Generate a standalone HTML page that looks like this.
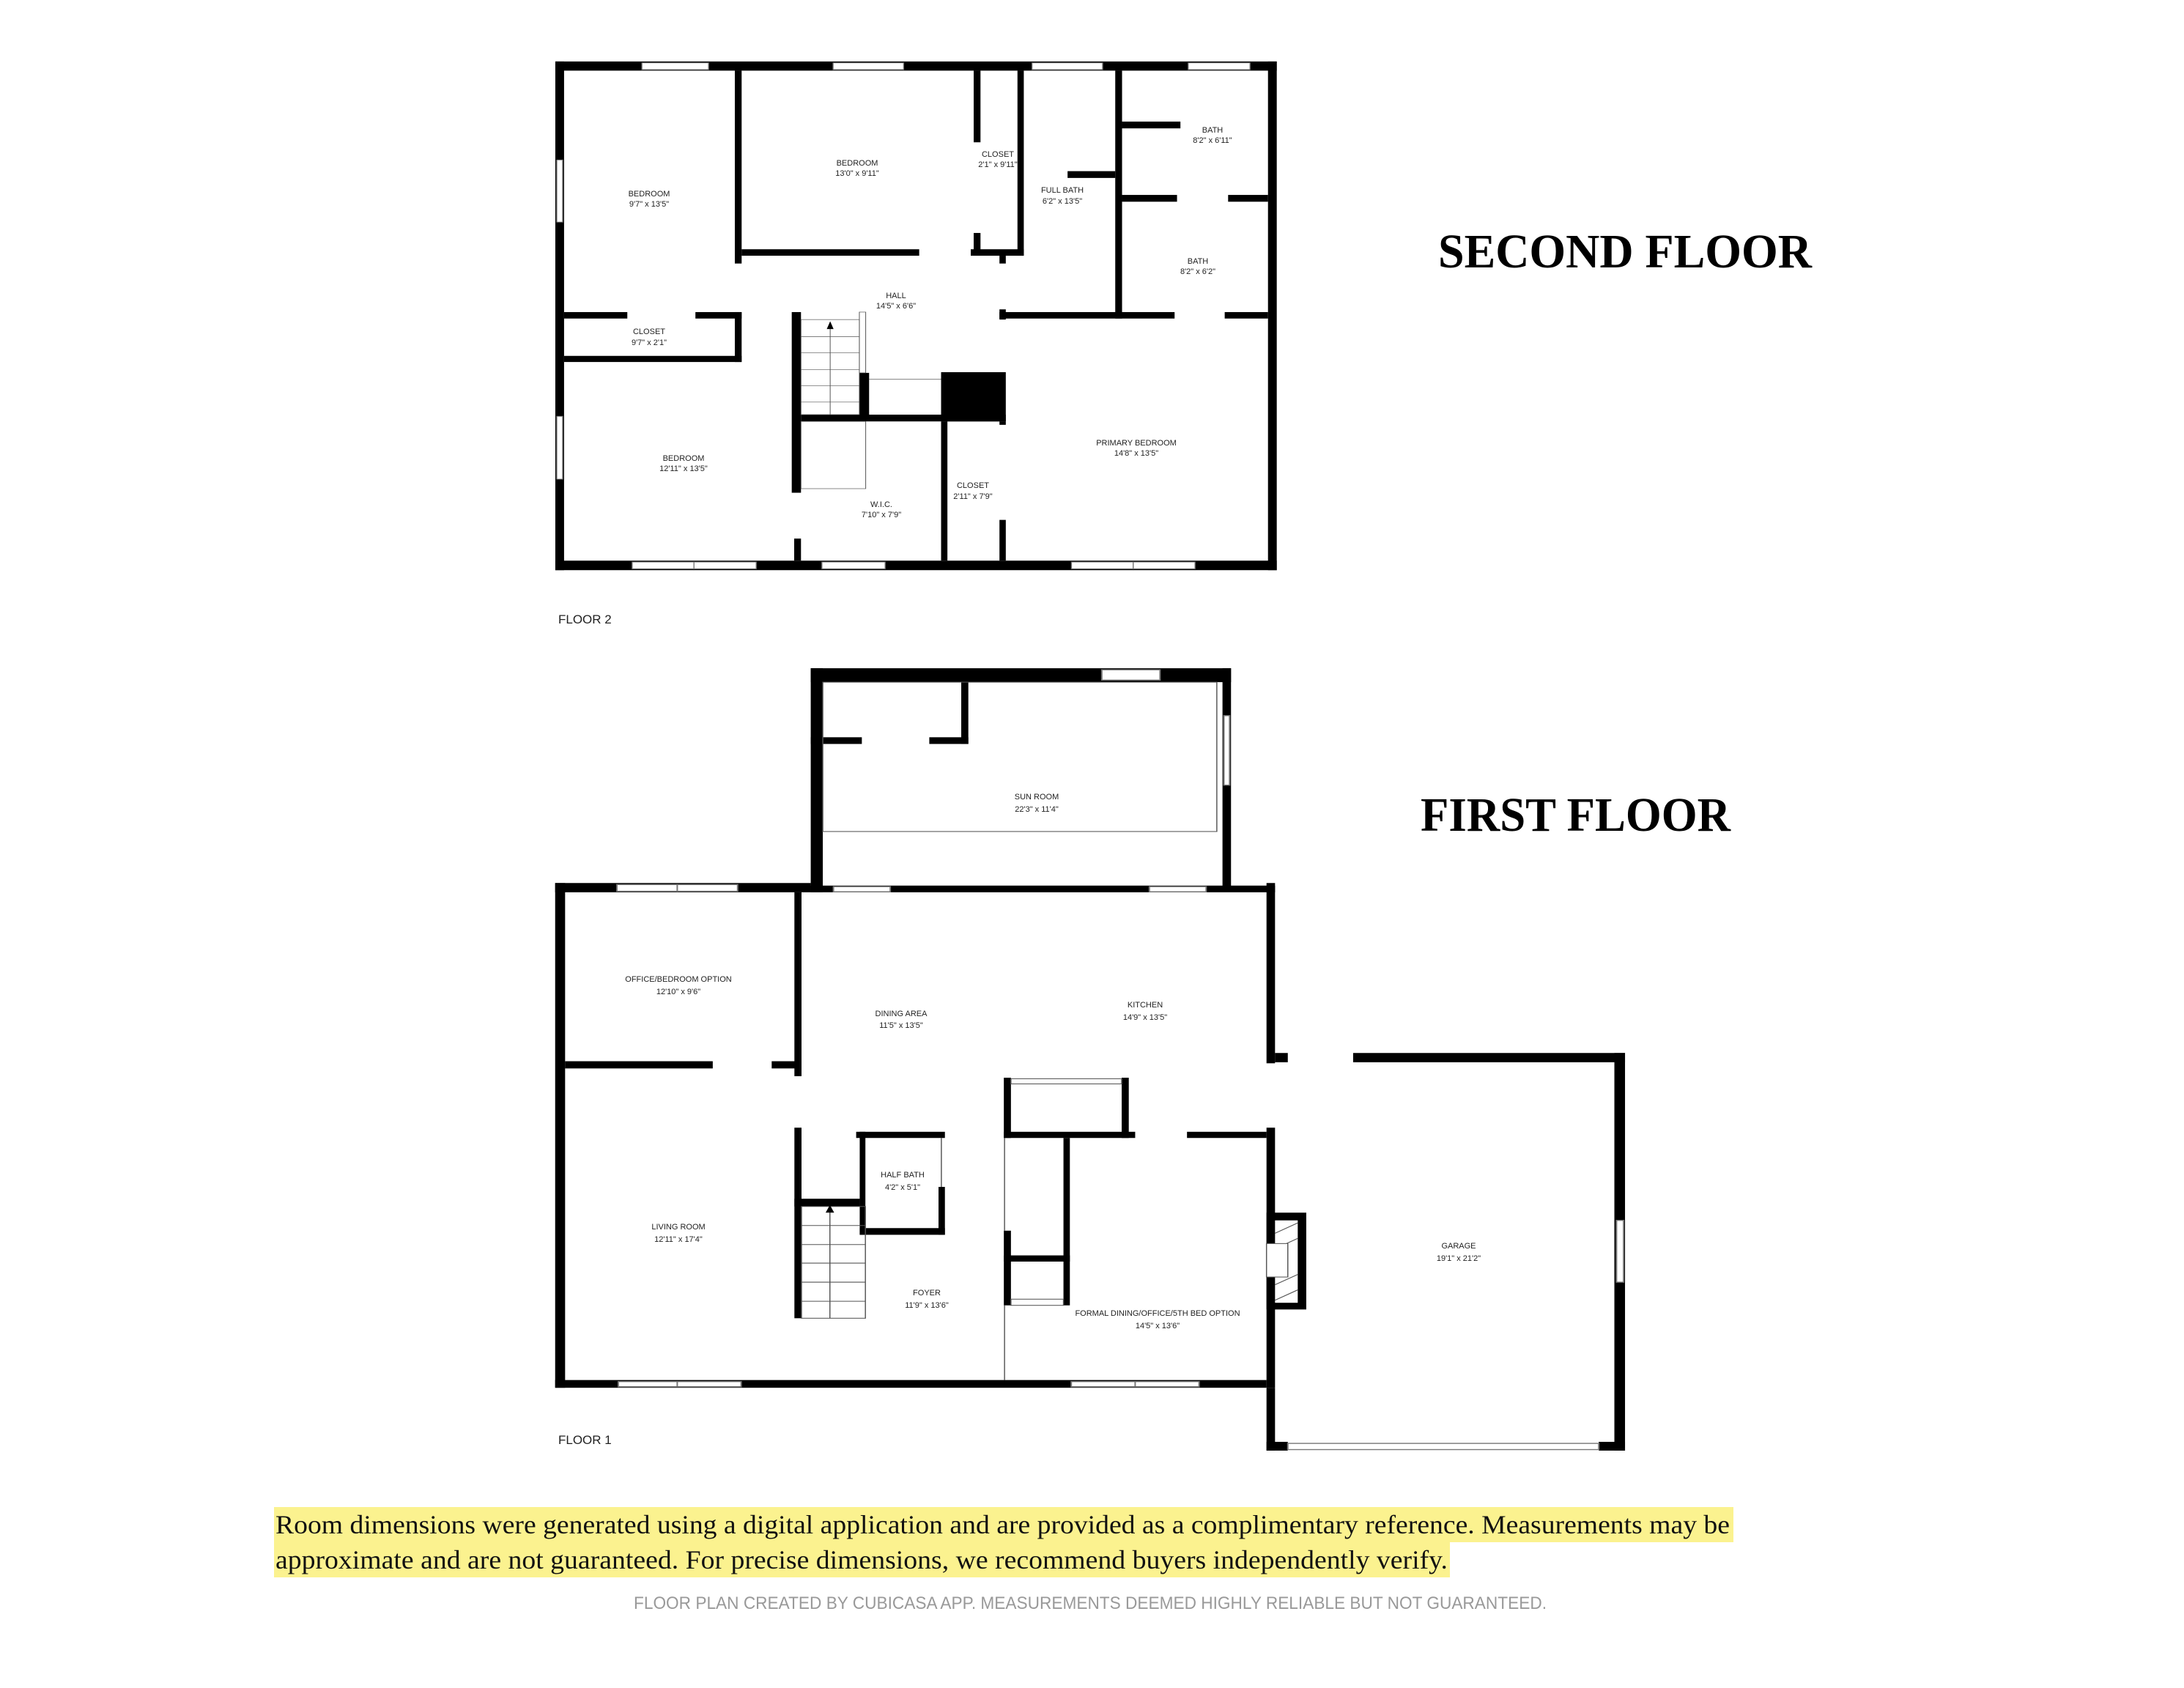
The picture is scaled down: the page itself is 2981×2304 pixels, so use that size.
<!DOCTYPE html>
<html><head><meta charset="utf-8"><style>
html,body{margin:0;padding:0;background:#fff;width:2981px;height:2304px;overflow:hidden}
svg{display:block}
.l{font-family:"Liberation Sans",sans-serif;font-size:11px;fill:#222;text-anchor:middle}
</style></head><body>
<svg width="2981" height="2304" viewBox="0 0 2981 2304" xmlns="http://www.w3.org/2000/svg">
<rect width="2981" height="2304" fill="#fff"/>
<!-- FLOOR 2 -->
<g transform="translate(750,70) scale(0.664,0.4635)">
 <g fill="#000">
  <rect x="12" y="30" width="1483" height="27"/>
  <rect x="12" y="1500" width="1483" height="28"/>
  <rect x="12" y="30" width="18" height="1498"/>
  <rect x="1477" y="30" width="18" height="1498"/>
  <rect x="381" y="57" width="14" height="568"/>
  <rect x="381" y="768" width="14" height="147"/>
  <rect x="30" y="768" width="130" height="19"/>
  <rect x="300" y="768" width="95" height="19"/>
  <rect x="30" y="897" width="365" height="18"/>
  <rect x="498" y="768" width="19" height="532"/>
  <rect x="503" y="1435" width="14" height="65"/>
  <rect x="395" y="583" width="365" height="19"/>
  <rect x="866" y="583" width="109" height="19"/>
  <rect x="872" y="57" width="14" height="211"/>
  <rect x="872" y="535" width="14" height="67"/>
  <rect x="962" y="57" width="13" height="545"/>
  <rect x="925" y="602" width="13" height="23"/>
  <rect x="925" y="760" width="13" height="30"/>
  <rect x="805" y="945" width="133" height="145"/>
  <rect x="1163" y="57" width="14" height="730"/>
  <rect x="1065" y="353" width="98" height="20"/>
  <rect x="1177" y="207" width="120" height="20"/>
  <rect x="1177" y="423" width="113" height="20"/>
  <rect x="1395" y="423" width="82" height="20"/>
  <rect x="925" y="768" width="360" height="19"/>
  <rect x="1388" y="768" width="89" height="19"/>
  <rect x="637" y="947" width="20" height="128"/>
  <rect x="517" y="1070" width="421" height="20"/>
  <rect x="805" y="1090" width="13" height="410"/>
  <rect x="925" y="1380" width="13" height="120"/>
  <rect x="925" y="1090" width="13" height="10"/>
 </g>
 <g fill="#fff" stroke="#777" stroke-width="2">
  <rect x="190" y="34" width="137" height="20"/><rect x="583" y="34" width="145" height="20"/>
  <rect x="992" y="34" width="145" height="20"/><rect x="1313" y="34" width="127" height="20"/>
  <rect x="15" y="320" width="12" height="183"/><rect x="15" y="1075" width="12" height="185"/>
  <rect x="170" y="1504" width="127" height="20"/><rect x="297" y="1504" width="128" height="20"/>
  <rect x="560" y="1504" width="130" height="20"/><rect x="1073" y="1504" width="127" height="20"/><rect x="1200" y="1504" width="127" height="20"/>
 </g>
 <g fill="none" stroke="#555" stroke-width="1.5">
  <rect x="517" y="790" width="120" height="280"/>
  <line x1="517" y1="840" x2="637" y2="840"/><line x1="517" y1="888" x2="637" y2="888"/><line x1="517" y1="937" x2="637" y2="937"/><line x1="517" y1="985" x2="637" y2="985"/><line x1="517" y1="1033" x2="637" y2="1033"/>
  <line x1="577" y1="800" x2="577" y2="1070"/>
  <rect x="637" y="768" width="13" height="179"/>
  <rect x="517" y="1090" width="133" height="198"/>
  <line x1="657" y1="966" x2="805" y2="966"/>
 </g>
 <polygon points="570,818 584,818 577,795" fill="#000"/>
</g>
<text x="886" y="268" class="l">BEDROOM</text><text x="886" y="282" class="l">9'7" x 13'5"</text>
<text x="1170" y="226" class="l">BEDROOM</text><text x="1170" y="240" class="l">13'0" x 9'11"</text>
<text x="1362" y="214" class="l">CLOSET</text><text x="1362" y="228" class="l">2'1" x 9'11"</text>
<text x="1450" y="263" class="l">FULL BATH</text><text x="1450" y="278" class="l">6'2" x 13'5"</text>
<text x="1655" y="181" class="l">BATH</text><text x="1655" y="195" class="l">8'2" x 6'11"</text>
<text x="1635" y="360" class="l">BATH</text><text x="1635" y="374" class="l">8'2" x 6'2"</text>
<text x="1223" y="407" class="l">HALL</text><text x="1223" y="421" class="l">14'5" x 6'6"</text>
<text x="886" y="456" class="l">CLOSET</text><text x="886" y="471" class="l">9'7" x 2'1"</text>
<text x="933" y="629" class="l">BEDROOM</text><text x="933" y="643" class="l">12'11" x 13'5"</text>
<text x="1203" y="692" class="l">W.I.C.</text><text x="1203" y="706" class="l">7'10" x 7'9"</text>
<text x="1328" y="666" class="l">CLOSET</text><text x="1328" y="681" class="l">2'11" x 7'9"</text>
<text x="1551" y="608" class="l">PRIMARY BEDROOM</text><text x="1551" y="622" class="l">14'8" x 13'5"</text>
<text x="762" y="851" font-family="Liberation Sans,sans-serif" font-size="17" fill="#222">FLOOR 2</text>
<text x="1963" y="365" font-family="Liberation Serif,serif" font-weight="bold" font-size="66" textLength="510" lengthAdjust="spacingAndGlyphs">SECOND FLOOR</text>
<text x="1939" y="1134" font-family="Liberation Serif,serif" font-weight="bold" font-size="66" textLength="423" lengthAdjust="spacingAndGlyphs">FIRST FLOOR</text>

<!-- FLOOR 1 -->
<g transform="translate(750,910) scale(0.969,0.703)">
 <g fill="#000">
  <rect x="368" y="3" width="592" height="27"/>
  <rect x="368" y="3" width="17" height="435"/>
  <rect x="948" y="3" width="12" height="430"/>
  <rect x="580" y="18" width="10" height="132"/>
  <rect x="368" y="137" width="72" height="13"/>
  <rect x="535" y="137" width="55" height="13"/>
  <rect x="8" y="420" width="360" height="18"/>
  <rect x="368" y="425" width="654" height="13"/>
  <rect x="8" y="420" width="14" height="980"/>
  <rect x="1010" y="420" width="12" height="350"/>
  <rect x="1010" y="895" width="12" height="505"/>
  <rect x="8" y="1385" width="1002" height="15"/>
  <rect x="22" y="766" width="208" height="14"/>
  <rect x="313" y="766" width="42" height="14"/>
  <rect x="345" y="438" width="10" height="357"/>
  <rect x="345" y="895" width="10" height="370"/>
  <rect x="432" y="903" width="125" height="12"/>
  <rect x="640" y="903" width="185" height="12"/>
  <rect x="898" y="903" width="112" height="12"/>
  <rect x="437" y="903" width="8" height="200"/>
  <rect x="437" y="1090" width="120" height="13"/>
  <rect x="548" y="1010" width="9" height="93"/>
  <rect x="345" y="1033" width="92" height="15"/>
  <rect x="640" y="798" width="10" height="117"/>
  <rect x="806" y="798" width="10" height="117"/>
  <rect x="724" y="915" width="9" height="325"/>
  <rect x="640" y="1095" width="10" height="145"/>
  <rect x="640" y="1143" width="93" height="12"/>
  <rect x="1022" y="750" width="18" height="18"/>
  <rect x="1132" y="750" width="383" height="18"/>
  <rect x="1500" y="750" width="15" height="772"/>
  <rect x="1010" y="1400" width="12" height="122"/>
  <rect x="1010" y="1505" width="30" height="17"/>
  <rect x="1478" y="1505" width="37" height="17"/>
  <rect x="1010" y="1060" width="56" height="188"/>
 </g>
 <rect x="1022" y="1075" width="32" height="160" fill="#fff"/>
 <g stroke="#555" stroke-width="1.5">
  <line x1="1022" y1="1100" x2="1054" y2="1080"/><line x1="1022" y1="1130" x2="1054" y2="1110"/><line x1="1022" y1="1200" x2="1054" y2="1180"/><line x1="1022" y1="1230" x2="1054" y2="1210"/>
 </g>
 <rect x="1010" y="1120" width="30" height="65" fill="#fff" stroke="#555" stroke-width="1.5"/>
 <g fill="#fff" stroke="#777" stroke-width="2">
  <rect x="778" y="6" width="82" height="20"/><rect x="950" y="95" width="8" height="135"/>
  <rect x="95" y="423" width="85" height="13"/><rect x="180" y="423" width="85" height="13"/>
  <rect x="400" y="427" width="80" height="10"/><rect x="845" y="427" width="80" height="10"/>
  <rect x="97" y="1388" width="83" height="10"/><rect x="180" y="1388" width="90" height="10"/>
  <rect x="735" y="1388" width="90" height="10"/><rect x="825" y="1388" width="90" height="10"/>
  <rect x="1503" y="1075" width="10" height="120"/>
  <rect x="1040" y="1508" width="438" height="12"/>
 </g>
 <g fill="none" stroke="#555" stroke-width="1.5">
  <rect x="385" y="30" width="555" height="290"/>
  <rect x="650" y="800" width="156" height="10"/>
  <rect x="355" y="1048" width="90" height="217"/>
  <line x1="355" y1="1085" x2="445" y2="1085"/><line x1="355" y1="1122" x2="445" y2="1122"/><line x1="355" y1="1158" x2="445" y2="1158"/><line x1="355" y1="1195" x2="445" y2="1195"/><line x1="355" y1="1232" x2="445" y2="1232"/>
  <line x1="395" y1="1055" x2="395" y2="1265"/>
  <line x1="641" y1="915" x2="641" y2="1095"/><line x1="641" y1="1240" x2="641" y2="1385"/>
  <rect x="650" y="1228" width="74" height="12"/>
  <line x1="552" y1="915" x2="552" y2="1010"/>
 </g>
 <polygon points="389,1060 401,1060 395,1045" fill="#000"/>
</g>
<text x="1415" y="1091" class="l">SUN ROOM</text><text x="1415" y="1108" class="l">22'3" x 11'4"</text>
<text x="926" y="1340" class="l">OFFICE/BEDROOM OPTION</text><text x="926" y="1357" class="l">12'10" x 9'6"</text>
<text x="1230" y="1387" class="l">DINING AREA</text><text x="1230" y="1403" class="l">11'5" x 13'5"</text>
<text x="1563" y="1375" class="l">KITCHEN</text><text x="1563" y="1392" class="l">14'9" x 13'5"</text>
<text x="1232" y="1607" class="l">HALF BATH</text><text x="1232" y="1624" class="l">4'2" x 5'1"</text>
<text x="926" y="1678" class="l">LIVING ROOM</text><text x="926" y="1695" class="l">12'11" x 17'4"</text>
<text x="1265" y="1768" class="l">FOYER</text><text x="1265" y="1785" class="l">11'9" x 13'6"</text>
<text x="1580" y="1796" class="l">FORMAL DINING/OFFICE/5TH BED OPTION</text><text x="1580" y="1813" class="l">14'5" x 13'6"</text>
<text x="1991" y="1704" class="l">GARAGE</text><text x="1991" y="1721" class="l">19'1" x 21'2"</text>
<text x="762" y="1971" font-family="Liberation Sans,sans-serif" font-size="17" fill="#222">FLOOR 1</text>

<!-- disclaimer -->
<rect x="374" y="2057" width="1992" height="48" fill="#fbf28f"/>
<rect x="374" y="2105" width="1605" height="48" fill="#fbf28f"/>
<text x="376" y="2093" font-family="Liberation Serif,serif" font-size="36" fill="#111" textLength="1985" lengthAdjust="spacingAndGlyphs">Room dimensions were generated using a digital application and are provided as a complimentary reference. Measurements may be</text>
<text x="376" y="2141" font-family="Liberation Serif,serif" font-size="36" fill="#111" textLength="1600" lengthAdjust="spacingAndGlyphs">approximate and are not guaranteed. For precise dimensions, we recommend buyers independently verify.</text>
<text x="865" y="2196" font-family="Liberation Sans,sans-serif" font-size="24" fill="#999" textLength="1246" lengthAdjust="spacingAndGlyphs">FLOOR PLAN CREATED BY CUBICASA APP. MEASUREMENTS DEEMED HIGHLY RELIABLE BUT NOT GUARANTEED.</text>
</svg>
</body></html>
